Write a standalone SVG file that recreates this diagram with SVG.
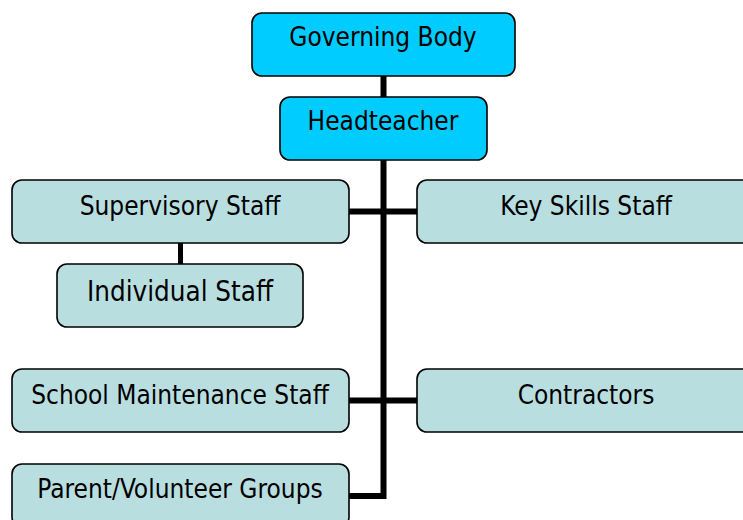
<svg xmlns="http://www.w3.org/2000/svg" width="743" height="520" viewBox="0 0 743 520">
  <style>
    .box { stroke: #000; stroke-width: 1.6; }
    .top { fill: #00CCFF; }
    .staff { fill: #B9DEE0; }
    .label { font-family: "DejaVu Sans Condensed", "DejaVu Sans", sans-serif; font-stretch: condensed; font-size: 26px; fill: #000; text-anchor: middle; }
    .link { stroke: #000; stroke-width: 6; fill: none; }
  </style>
  <rect width="743" height="520" fill="#fff"/>

  <!-- connectors -->
  <g id="connectors">
    <line class="link" x1="383.5" y1="76" x2="383.5" y2="97"/>
    <polyline class="link" points="383.5,160 383.5,496 349,496"/>
    <line class="link" x1="349" y1="211.5" x2="417" y2="211.5"/>
    <line class="link" x1="349" y1="400.5" x2="417" y2="400.5"/>
    <line class="link" x1="180.5" y1="243" x2="180.5" y2="264" style="stroke-width:5"/>
  </g>

  <g id="governing-body">
    <rect class="box top" x="252" y="13" width="263" height="63" rx="10"/>
    <text class="label" x="383" y="46">Governing Body</text>
  </g>

  <g id="headteacher">
    <rect class="box top" x="280" y="97" width="207" height="63" rx="10"/>
    <text class="label" x="383" y="130">Headteacher</text>
  </g>

  <g id="supervisory-staff">
    <rect class="box staff" x="12" y="180" width="337" height="63" rx="10"/>
    <text class="label" x="180" y="215">Supervisory Staff</text>
  </g>

  <g id="key-skills-staff">
    <rect class="box staff" x="417" y="180" width="338" height="63" rx="10"/>
    <text class="label" x="586" y="215">Key Skills Staff</text>
  </g>

  <g id="individual-staff">
    <rect class="box staff" x="57" y="264" width="246" height="63" rx="10"/>
    <text class="label" x="180" y="301" style="font-size:27.5px">Individual Staff</text>
  </g>

  <g id="school-maintenance-staff">
    <rect class="box staff" x="12" y="369" width="337" height="63" rx="10"/>
    <text class="label" x="180" y="404">School Maintenance Staff</text>
  </g>

  <g id="contractors">
    <rect class="box staff" x="417" y="369" width="338" height="63" rx="10"/>
    <text class="label" x="586" y="404">Contractors</text>
  </g>

  <g id="parent-volunteer-groups">
    <rect class="box staff" x="12" y="464" width="337" height="63" rx="10"/>
    <text class="label" x="180" y="498">Parent/Volunteer Groups</text>
  </g>
</svg>
